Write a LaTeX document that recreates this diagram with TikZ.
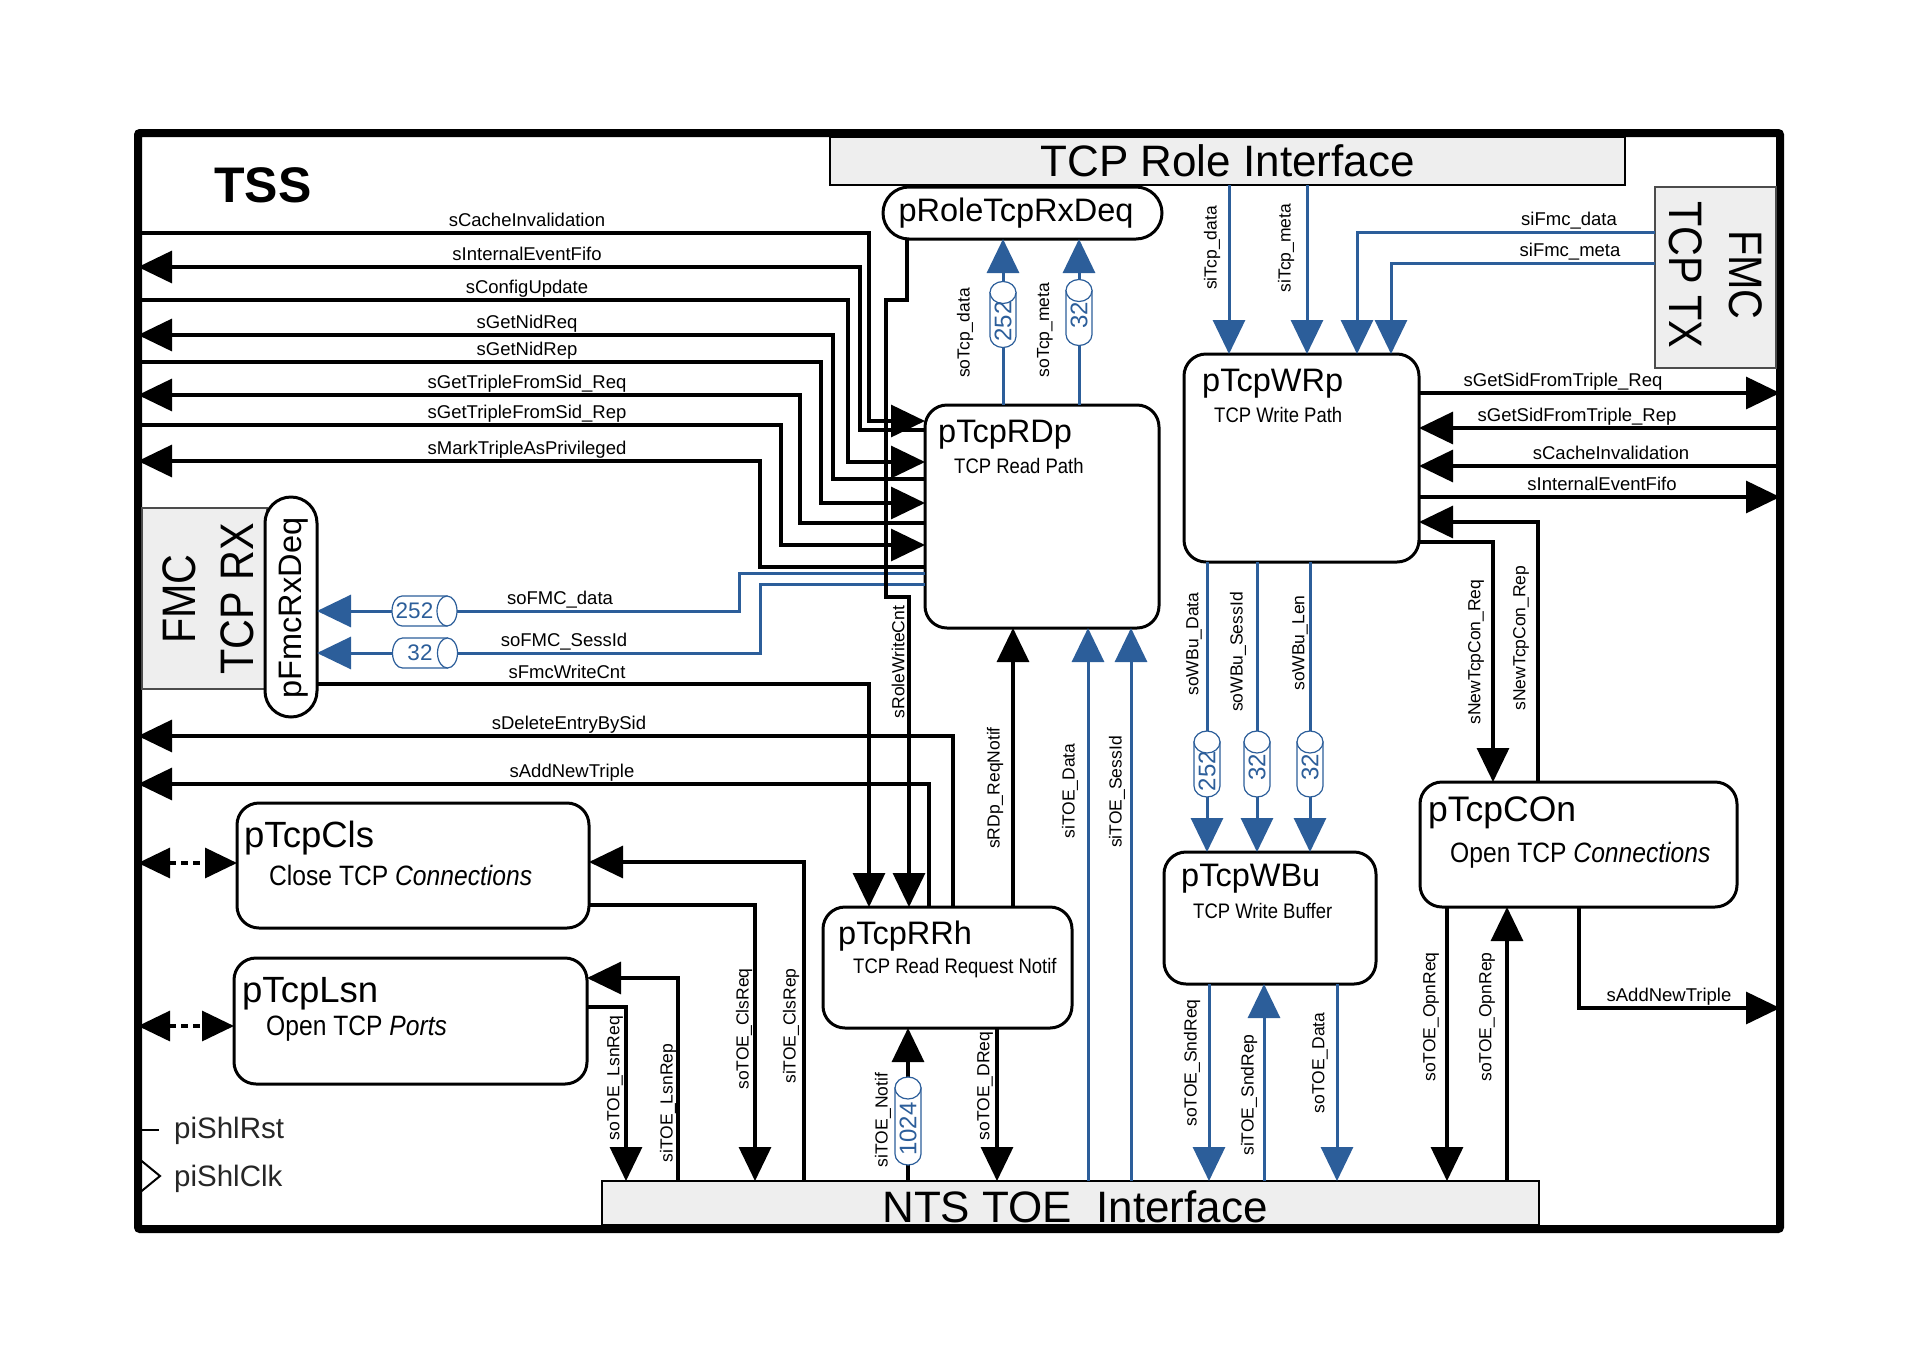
\documentclass[tikz,border=0pt]{standalone}
\usepackage{fontspec}
\setmainfont{Liberation Sans}
\newfontfamily\cnd{Liberation Sans}[FakeStretch=0.88]
\usetikzlibrary{arrows.meta}
\definecolor{myblue}{RGB}{44,94,154}
\definecolor{ifgrey}{RGB}{238,238,238}
\tikzset{
 pbox/.style={draw, line width=3pt, fill=white, rounded corners=22pt, inner sep=0pt, outer sep=0pt},
 ifbox/.style={draw, line width=2pt, fill=ifgrey, inner sep=0pt, outer sep=0pt},
 blk/.style={draw=black, line width=3.2pt},
 blu/.style={draw=myblue, line width=3pt},
 arrowend/.style={arrows={-Triangle[length=34pt,width=32pt]}},
 lab/.style={font=\fontsize{18.5}{20}\selectfont, inner sep=0pt, anchor=base},
 rlab/.style={font=\fontsize{17.5}{20}\selectfont, rotate=90, inner sep=0pt},
 ttl/.style={font=\fontsize{32.5}{36}\selectfont, inner sep=0pt, anchor=base west},
 ttlb/.style={font=\fontsize{36.5}{40}\selectfont, inner sep=0pt, anchor=base west},
 subt/.style={font=\cnd\fontsize{21}{24}\selectfont, inner sep=0pt, anchor=base west},
 subtb/.style={font=\cnd\fontsize{28}{32}\selectfont, inner sep=0pt, anchor=base west},
 cylsty/.style={draw=myblue, line width=1.2pt, fill=white},
 cyltxt/.style={text=myblue, inner sep=0pt},
}
% vertical cylinder: x, y, half length, text, text offset
\newcommand\vcyl[5]{%
 \begin{scope}[shift={(#1,#2)}]
  \path[cylsty] (-13,{-#3+11}) -- (-13,{#3-11}) arc[start angle=180,end angle=0,x radius=13,y radius=11] -- (13,{-#3+11}) -- cycle;
  \path[cylsty] (0,{-#3+11}) ellipse[x radius=13,y radius=11];
  \node[cyltxt, rotate=90, font=\fontsize{24}{26}\selectfont] at (0,#5) {#4};
 \end{scope}}
% horizontal cylinder: x, y, text, text offset
\newcommand\hcyl[4]{%
 \begin{scope}[shift={(#1,#2)}]
  \path[cylsty] (22.5,-15) -- (-22.5,-15) arc[start angle=270,end angle=90,x radius=10,y radius=15] -- (22.5,15) -- cycle;
  \path[cylsty] (22.5,0) ellipse[x radius=10,y radius=15];
  \node[cyltxt, font=\fontsize{22.5}{24}\selectfont] at (#4,0) {#3};
 \end{scope}}
\begin{document}
\begin{tikzpicture}[x=1pt,y=-1pt]
\useasboundingbox (0,0) rectangle (1920,1353);
% outer border
\node[draw, line width=8pt, minimum width=1642pt, minimum height=1096pt, inner sep=0pt, outer sep=0pt, rounded corners=2pt] (tss) at (959,681) {};
\node[font=\bfseries\fontsize{50}{54}\selectfont, inner sep=0pt, anchor=base west] (tssT) at (214,202) {TSS};

% interfaces
\node[ifbox, minimum width=795pt, minimum height=48pt, font=\fontsize{44}{48}\selectfont] (role) at (1227.5,161) {TCP Role Interface};
\node[ifbox, minimum width=937pt, minimum height=44pt] (nts) at (1070.5,1203) {};
\node[font=\fontsize{44}{48}\selectfont, inner sep=0pt] (ntsT) at (1075,1207) {NTS TOE\ \ Interface};
\node[ifbox, draw=black!70, minimum width=121pt, minimum height=181pt] (fmctx) at (1715.5,277.5) {};
\node[rotate=-90, align=center, font=\cnd\fontsize{47}{60}\selectfont, inner sep=0pt] (fmctxT) at (1716,275) {FMC\\TCP TX};
\node[ifbox, draw=black!70, minimum width=125pt, minimum height=181pt] (fmcrx) at (204.5,598.5) {};
\node[rotate=90, align=center, font=\cnd\fontsize{47}{58}\selectfont, inner sep=0pt] (fmcrxT) at (208,599) {FMC\\TCP RX};

% processes
\node[pbox, rounded corners=26pt, minimum width=279pt, minimum height=52pt] (prole) at (1022.5,213) {};
\node[font=\fontsize{32.5}{36}\selectfont, inner sep=0pt] (proleT) at (1016,213) {pRoleTcpRxDeq};
\node[pbox, rounded corners=26pt, minimum width=52pt, minimum height=220pt] (pfmc) at (291,607) {};
\node[rotate=90, font=\fontsize{32.5}{36}\selectfont, inner sep=0pt] (pfmcT) at (294,608) {pFmcRxDeq};
\node[pbox, minimum width=234pt, minimum height=223pt] (rdp) at (1042,516.5) {};
\node[pbox, minimum width=235pt, minimum height=208pt] (wrp) at (1301.5,458) {};
\node[pbox, minimum width=249pt, minimum height=121pt] (rrh) at (947.5,967.5) {};
\node[pbox, minimum width=212pt, minimum height=132pt] (wbu) at (1270,918) {};
\node[pbox, minimum width=317pt, minimum height=125pt] (con) at (1578.5,844.5) {};
\node[pbox, minimum width=352pt, minimum height=125pt] (cls) at (413,865.5) {};
\node[pbox, minimum width=353pt, minimum height=126pt] (lsn) at (410.5,1021) {};

\node[ttl] (rdpT) at (938,442) {pTcpRDp};
\node[subt] (rdpS) at (954,473) {TCP Read Path};
\node[ttl] (wrpT) at (1202,391) {pTcpWRp};
\node[subt] (wrpS) at (1214,422) {TCP Write Path};
\node[ttlb, font=\fontsize{35.5}{40}\selectfont] (conT) at (1428,821) {pTcpCOn};
\node[subtb] (conS) at (1450,862) {Open TCP \textit{Connections}};
\node[ttl] (wbuT) at (1181,886) {pTcpWBu};
\node[subt] (wbuS) at (1193,918) {TCP Write Buffer};
\node[ttl] (rrhT) at (838,944) {pTcpRRh};
\node[subt] (rrhS) at (853,973) {TCP Read Request Notif};
\node[ttlb] (clsT) at (244,847) {pTcpCls};
\node[subtb] (clsS) at (269,885) {Close TCP \textit{Connections}};
\node[ttlb] (lsnT) at (242,1002) {pTcpLsn};
\node[subtb] (lsnS) at (266,1035) {Open TCP \textit{Ports}};

% ---- left group around pTcpRDp
\draw[blk,arrowend] (tss.west|-0,233) -| (869,421) -- (rdp.west|-0,421);
\draw[blk,arrowend] (rdp.west|-0,430) -| (860,267) -- (tss.west|-0,267);
\draw[blk,arrowend] (tss.west|-0,300) -| (848,462) -- (rdp.west|-0,462);
\draw[blk,arrowend] (rdp.west|-0,479) -| (833,335) -- (tss.west|-0,335);
\draw[blk,arrowend] (tss.west|-0,362) -| (821,503) -- (rdp.west|-0,503);
\draw[blk,arrowend] (rdp.west|-0,523) -| (800,395) -- (tss.west|-0,395);
\draw[blk,arrowend] (tss.west|-0,425) -| (781,545) -- (rdp.west|-0,545);
\draw[blk,arrowend] (rdp.west|-0,567) -| (760,461) -- (tss.west|-0,461);
\draw[blu,arrowend] (rdp.west|-0,573) -| (739,611) -- (pfmc.east|-0,611);
\draw[blu,arrowend] (rdp.west|-0,584) -| (760,653) -- (pfmc.east|-0,653);
\draw[blk,arrowend] (907,0|-prole.south) -- (907,300) -| (886,597) -| (909,0|-rrh.north);
\draw[blk,arrowend] (pfmc.east|-0,684) -| (869,0|-rrh.north);
\draw[blk,arrowend] (953,0|-rrh.north) |- (tss.west|-0,736);
\draw[blk,arrowend] (929,0|-rrh.north) |- (tss.west|-0,784);
\draw[blk,arrowend] (1013,0|-rrh.north) -- (1013,0|-rdp.south);
\draw[blu,arrowend] (1088,0|-nts.north) -- (1088,0|-rdp.south);
\draw[blu,arrowend] (1131,0|-nts.north) -- (1131,0|-rdp.south);
\draw[blu,arrowend] (1003,0|-rdp.north) -- (1003,0|-prole.south);
\draw[blu,arrowend] (1079,0|-rdp.north) -- (1079,0|-prole.south);

% ---- pTcpWRp
\draw[blu,arrowend] (1229,0|-role.south) -- (1229,0|-wrp.north);
\draw[blu,arrowend] (1307,0|-role.south) -- (1307,0|-wrp.north);
\draw[blu,arrowend] (fmctx.west|-0,232) -| (1357,0|-wrp.north);
\draw[blu,arrowend] (fmctx.west|-0,263) -| (1391,0|-wrp.north);
\draw[blk,arrowend] (wrp.east|-0,393) -- (tss.east|-0,393);
\draw[blk,arrowend] (tss.east|-0,428) -- (wrp.east|-0,428);
\draw[blk,arrowend] (tss.east|-0,466) -- (wrp.east|-0,466);
\draw[blk,arrowend] (wrp.east|-0,497) -- (tss.east|-0,497);
\draw[blk,arrowend] (1538,0|-con.north) |- (wrp.east|-0,522);
\draw[blk,arrowend] (wrp.east|-0,542) -| (1493,0|-con.north);
\draw[blu,arrowend] (1207,0|-wrp.south) -- (1207,0|-wbu.north);
\draw[blu,arrowend] (1257,0|-wrp.south) -- (1257,0|-wbu.north);
\draw[blu,arrowend] (1310,0|-wrp.south) -- (1310,0|-wbu.north);

% ---- to/from NTS TOE
\draw[blu,arrowend] (1209,0|-wbu.south) -- (1209,0|-nts.north);
\draw[blu,arrowend] (1264,0|-nts.north) -- (1264,0|-wbu.south);
\draw[blu,arrowend] (1337,0|-wbu.south) -- (1337,0|-nts.north);
\draw[blk,arrowend] (1447,0|-con.south) -- (1447,0|-nts.north);
\draw[blk,arrowend] (1507,0|-nts.north) -- (1507,0|-con.south);
\draw[blk,arrowend] (1579,0|-con.south) |- (tss.east|-0,1008);
\draw[blk,arrowend] (908,0|-nts.north) -- (908,0|-rrh.south);
\draw[blk,arrowend] (997,0|-rrh.south) -- (997,0|-nts.north);
\draw[blk,arrowend] (804,0|-nts.north) |- (cls.east|-0,862);
\draw[blk,arrowend] (cls.east|-0,905) -| (755,0|-nts.north);
\draw[blk,arrowend] (678,0|-nts.north) |- (lsn.east|-0,978);
\draw[blk,arrowend] (lsn.east|-0,1007) -| (626,0|-nts.north);

% ---- shell side
\draw[blk, dash pattern=on 7pt off 5pt, arrows={Triangle[length=32pt,width=30pt]-Triangle[length=32pt,width=30pt]}] (tss.west|-0,863) -- (cls.west|-0,863);
\draw[blk, dash pattern=on 7pt off 5pt, arrows={Triangle[length=32pt,width=30pt]-Triangle[length=32pt,width=30pt]}] (tss.west|-0,1026) -- (lsn.west|-0,1026);
\draw[line width=2pt] (tss.west|-0,1130) -- (159,1130);
\draw[line width=2pt] (tss.west|-0,1158) -- (160,1176) -- (tss.west|-0,1194);
\node[font=\fontsize{29.5}{32}\selectfont, anchor=west, inner sep=0pt, text=black!85] (rst) at (174,1131) {piShlRst};
\node[font=\fontsize{29.5}{32}\selectfont, anchor=west, inner sep=0pt, text=black!85] (clk) at (174,1179) {piShlClk};

% ---- cylinders
\hcyl{424.5}{611}{252}{-10}
\hcyl{425}{653}{32}{-5}
\vcyl{1003}{314.5}{33}{252}{7}
\vcyl{1079}{312.5}{33}{32}{3}
\vcyl{1207}{764}{33}{252}{7}
\vcyl{1257}{764}{33}{32}{3}
\vcyl{1310}{764}{33}{32}{3}
\vcyl{908}{1121}{44}{1024}{8}

% ---- horizontal labels
\node[lab] (l1) at (527,226) {sCacheInvalidation};
\node[lab] (l2) at (527,260) {sInternalEventFifo};
\node[lab] (l3) at (527,293) {sConfigUpdate};
\node[lab] (l4) at (527,328) {sGetNidReq};
\node[lab] (l5) at (527,355) {sGetNidRep};
\node[lab] (l6) at (527,388) {sGetTripleFromSid\_Req};
\node[lab] (l7) at (527,418) {sGetTripleFromSid\_Rep};
\node[lab] (l8) at (527,454) {sMarkTripleAsPrivileged};
\node[lab] (l9) at (560,604) {soFMC\_data};
\node[lab] (l10) at (564,646) {soFMC\_SessId};
\node[lab] (l11) at (567,678) {sFmcWriteCnt};
\node[lab] (l12) at (569,729) {sDeleteEntryBySid};
\node[lab] (l13) at (572,777) {sAddNewTriple};
\node[lab] (r1) at (1563,386) {sGetSidFromTriple\_Req};
\node[lab] (r2) at (1577,421) {sGetSidFromTriple\_Rep};
\node[lab] (r3) at (1611,459) {sCacheInvalidation};
\node[lab] (r4) at (1602,490) {sInternalEventFifo};
\node[lab] (r5) at (1669,1001) {sAddNewTriple};
\node[lab] (r6) at (1569,225) {siFmc\_data};
\node[lab] (r7) at (1570,256) {siFmc\_meta};

% ---- rotated labels
\node[rlab] (v1) at (1212,248) {siTcp\_data};
\node[rlab] (v2) at (1286,248) {siTcp\_meta};
\node[rlab] (v3) at (965,333) {soTcp\_data};
\node[rlab] (v4) at (1045,330) {soTcp\_meta};
\node[rlab] (v5) at (898,662) {sRoleWriteCnt};
\node[rlab] (v6) at (995,788) {sRDp\_ReqNotif};
\node[rlab] (v7) at (1070,791) {siTOE\_Data};
\node[rlab] (v8) at (1117,792) {siTOE\_SessId};
\node[rlab] (v9) at (1194,644) {soWBu\_Data};
\node[rlab] (v10) at (1238,652) {soWBu\_SessId};
\node[rlab] (v11) at (1300,643) {soWBu\_Len};
\node[rlab] (v12) at (1476,652) {sNewTcpCon\_Req};
\node[rlab] (v13) at (1521,638) {sNewTcpCon\_Rep};
\node[rlab] (v14) at (615,1078) {soTOE\_LsnReq};
\node[rlab] (v15) at (668,1103) {siTOE\_LsnRep};
\node[rlab] (v16) at (744,1029) {soTOE\_ClsReq};
\node[rlab] (v17) at (791,1026) {siTOE\_ClsRep};
\node[rlab] (v18) at (883,1120) {siTOE\_Notif};
\node[rlab] (v19) at (985,1086) {soTOE\_DReq};
\node[rlab] (v20) at (1192,1063) {soTOE\_SndReq};
\node[rlab] (v21) at (1249,1095) {siTOE\_SndRep};
\node[rlab] (v22) at (1320,1063) {soTOE\_Data};
\node[rlab] (v23) at (1431,1017) {soTOE\_OpnReq};
\node[rlab] (v24) at (1487,1017) {soTOE\_OpnRep};
\end{tikzpicture}
\end{document}
